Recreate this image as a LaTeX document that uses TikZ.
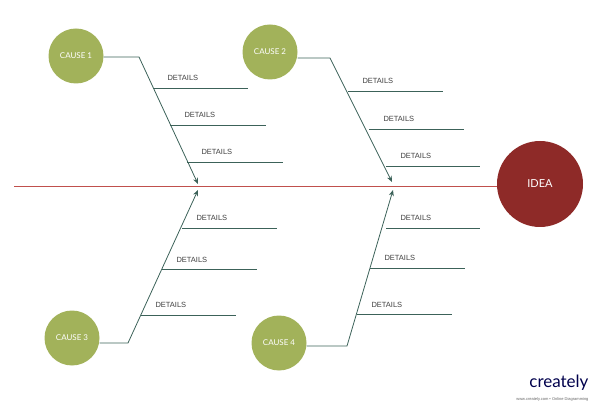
\documentclass[tikz,border=0pt]{standalone}
\usepackage{fontspec}
\setmainfont{Liberation Sans}
\newfontfamily\causefont{Lato}
\usetikzlibrary{arrows.meta,positioning}
\definecolor{causegreen}{HTML}{A2B25A}
\definecolor{ideared}{HTML}{8E2A28}
\definecolor{spine}{HTML}{C0504D}
\definecolor{bone}{HTML}{3C6259}
\tikzset{
  cause/.style={circle, fill=causegreen, minimum size=55pt, inner sep=0pt, text=white, font=\causefont\fontsize{8}{8}\selectfont},
  bone/.style={draw=bone, line width=0.8pt},
  det/.style={font=\fontsize{7.5}{8}\selectfont, text=black!75}
}
\begin{document}
\begin{tikzpicture}[x=1pt,y=-1pt]
  \useasboundingbox (0,0) rectangle (600,406);
  % idea and spine
  \node[circle, fill=ideared, minimum size=86pt, text=white, font=\causefont\fontsize{11}{11}\selectfont] (idea) at (540,184) {IDEA};
  \coordinate (tail) at (14,186);
  \draw[spine, line width=0.8pt] (tail) -- (tail -| idea.west);
  % causes
  \node[cause] (c1) at (76,56) {CAUSE 1};
  \node[cause] (c2) at (270,52) {CAUSE 2};
  \node[cause] (c3) at (72,338) {CAUSE 3};
  \node[cause] (c4) at (279,343) {CAUSE 4};
  \coordinate (k1) at (139,57);  \coordinate (e1) at (198,184);
  \coordinate (k2) at (330,58);  \coordinate (e2) at (392,182);
  \coordinate (k3) at (128,343); \coordinate (e3) at (198,190);
  \coordinate (k4) at (347,346); \coordinate (e4) at (393,190);
  \foreach \i in {1,...,4}
    \draw[bone, -{Stealth[length=6pt,width=5pt]}] (c\i.east |- k\i) -- (k\i) -- (e\i);
  % details
  \foreach \xa/\xb/\y in {153/248/88, 170/266/125, 187/283/162,
                          348/443/91, 369/464/129, 386/480/166,
                          182/277/228, 162/257/269, 141/236/315,
                          386/480/228, 370/465/268, 357/452/314} {
    \draw[bone] (\xa,\y) -- (\xb,\y);
    \node[det, anchor=base west] at (\xa+11,\y-7) {DETAILS};
  }
  % logo
  \node[font=\causefont\fontsize{17}{17}\selectfont, text=black!70!blue, anchor=south east] (logo) at (592,394) {creately};
  \node[font=\fontsize{4}{4}\selectfont, text=black!60, anchor=north east] at (logo.south east) {www.creately.com • Online Diagramming};
\end{tikzpicture}
\end{document}
